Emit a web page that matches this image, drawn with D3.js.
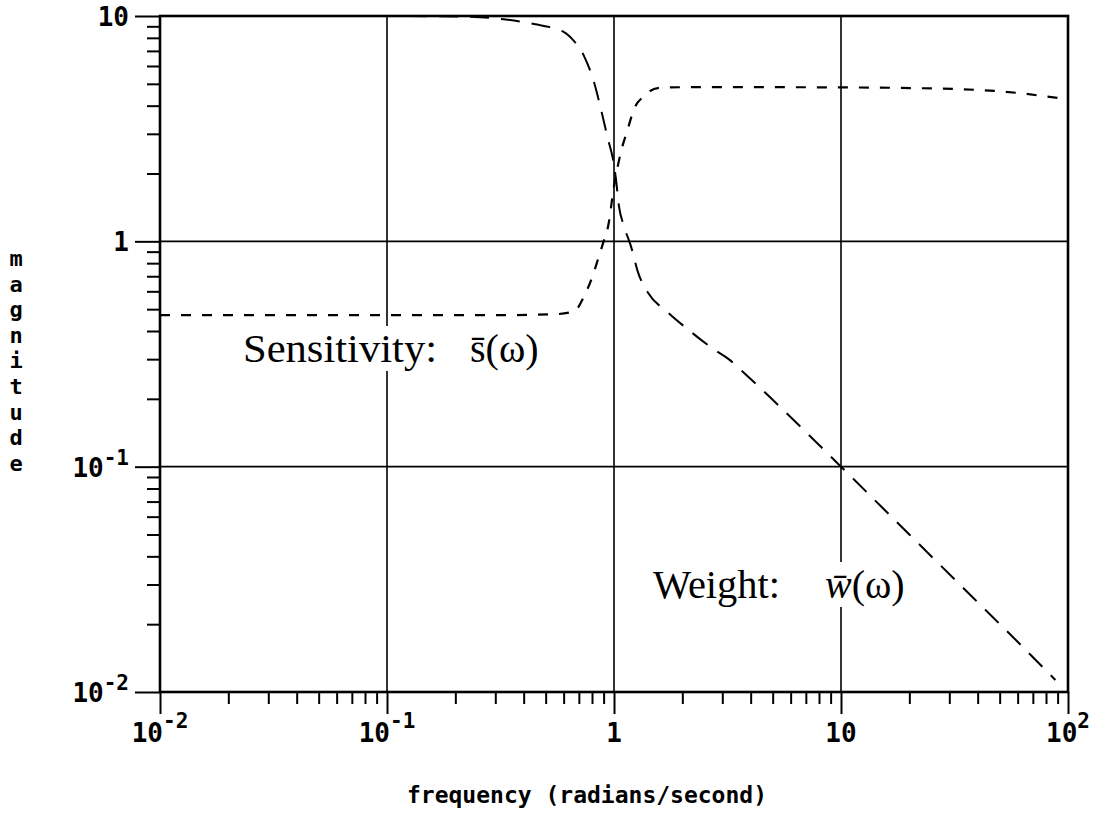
<!DOCTYPE html>
<html><head><meta charset="utf-8">
<script src="https://cdn.jsdelivr.net/npm/d3@7"></script>
<style>body{margin:0;background:#fff} svg{display:block}</style>
</head><body><svg id="c" width="1097" height="822"></svg>
<script>
// ---- data ----
const sensFreq = [0.01, 0.1, 0.3, 0.55, 0.667, 0.738, 0.80, 0.85, 0.90, 0.942, 1.0, 1.073, 1.15, 1.225, 1.356, 1.56, 2, 5, 10, 20.3, 49, 62, 78, 100];
const sensMag  = [0.47, 0.47, 0.47, 0.475, 0.489, 0.57, 0.69, 0.832, 1.0, 1.166, 1.755, 2.49, 3.15, 3.86, 4.41, 4.79, 4.83, 4.83, 4.82, 4.79, 4.64, 4.54, 4.41, 4.27];
const weightFreq = [0.01, 0.1, 0.2, 0.318, 0.444, 0.602, 0.667, 0.738, 0.816, 0.876, 0.941, 0.99, 1.02, 1.052, 1.107, 1.188, 1.276, 1.41, 1.73, 2.12, 2.76, 3.2, 3.63, 5, 10, 20, 38.5, 60, 88];
const weightMag  = [10, 10, 9.95, 9.7, 9.21, 8.49, 7.74, 6.64, 5.09, 3.86, 2.84, 2.31, 1.89, 1.43, 1.166, 0.95, 0.728, 0.593, 0.483, 0.406, 0.331, 0.3, 0.268, 0.198, 0.1, 0.05, 0.026, 0.0167, 0.0113];
const xMajor = [0.01, 0.1, 1, 10, 100];
const xTickBase = ["10", "10", "1", "10", "10"];
const xTickExp  = ["-2", "-1", "", "", "2"];
const yMajor = [0.01, 0.1, 1, 10];
const yTickBase = ["10", "10", "1", "10"];
const yTickExp  = ["-2", "-1", "", ""];
const xGrid = [0.1, 1, 10];
const yGrid = [0.1, 1];
const xTitle = "frequency (radians/second)";
const yTitle = "magnitude";
const sensLabel = "Sensitivity:";
const sensSym = "s\u0304(\u03c9)";
const weightLabel = "Weight:";
const weightSym = "w\u0304";

// ---- layout ----
const L = 160, R = 1068, T = 16, B = 692;
const svg = d3.select("#c");
svg.append("rect").attr("width",1097).attr("height",822).attr("fill","#fff");
const x = d3.scaleLog().domain([0.01, 100]).range([L, R]);
const y = d3.scaleLog().domain([0.01, 10]).range([B, T]);
const mono = "'DejaVu Sans Mono', monospace";
const serif = "'Liberation Serif', 'Times New Roman', serif";

// grid
svg.append("g").selectAll("line").data(xGrid).join("line")
  .attr("x1", d => x(d)).attr("x2", d => x(d)).attr("y1", T).attr("y2", B)
  .attr("stroke", "#000").attr("stroke-width", 1.6);
svg.append("g").selectAll("line").data(yGrid).join("line")
  .attr("x1", L).attr("x2", R).attr("y1", d => y(d)).attr("y2", d => y(d))
  .attr("stroke", "#000").attr("stroke-width", 1.6);

// curves
const line = d3.line().x(d => x(d[0])).y(d => y(d[1])).curve(d3.curveMonotoneX);
svg.append("path").datum(sensFreq.map((f,i)=>[f, sensMag[i]]))
  .attr("d", line).attr("fill","none").attr("stroke","#000")
  .attr("stroke-width", 2.2).attr("stroke-dasharray", "10,11");
svg.append("path").datum(weightFreq.map((f,i)=>[f, weightMag[i]]))
  .attr("d", line).attr("fill","none").attr("stroke","#000")
  .attr("stroke-width", 2.0).attr("stroke-dasharray", "19,12");

// axes ticks (outside)
const xMinor = x.ticks().filter(v => !xMajor.some(m => Math.abs(m - v) / m < 1e-6));
const yMinor = y.ticks().filter(v => !yMajor.some(m => Math.abs(m - v) / m < 1e-6));
function styleAxis(g){ g.select(".domain").remove(); g.selectAll("line").attr("stroke","#000").attr("stroke-width",2); g.selectAll("text").remove(); }
svg.append("g").attr("transform",`translate(0,${B})`)
  .call(d3.axisBottom(x).tickValues(xMinor).tickSize(12).tickFormat("")).call(styleAxis);
svg.append("g").attr("transform",`translate(0,${B})`)
  .call(d3.axisBottom(x).tickValues(xMajor).tickSize(22).tickFormat("")).call(styleAxis);
svg.append("g").attr("transform",`translate(${L},0)`)
  .call(d3.axisLeft(y).tickValues(yMinor).tickSize(13).tickFormat("")).call(styleAxis);
svg.append("g").attr("transform",`translate(${L},0)`)
  .call(d3.axisLeft(y).tickValues(yMajor).tickSize(25).tickFormat("")).call(styleAxis);

// frame
svg.append("rect").attr("x", L).attr("y", T).attr("width", R - L).attr("height", B - T)
  .attr("fill","none").attr("stroke","#000").attr("stroke-width", 2.6);

// x tick labels
xMajor.forEach((v, i) => {
  const t = svg.append("text").attr("x", x(v)).attr("y", 742)
    .attr("text-anchor","middle").attr("font-family", mono).attr("font-weight","bold").attr("font-size", 26);
  t.append("tspan").text(xTickBase[i]);
  if (xTickExp[i]) t.append("tspan").attr("dy", -14).attr("font-size", 21).text(xTickExp[i]);
});
// y tick labels
yMajor.forEach((v, i) => {
  const t = svg.append("text").attr("x", 129).attr("y", y(v) + 10)
    .attr("text-anchor","end").attr("font-family", mono).attr("font-weight","bold").attr("font-size", 26);
  t.append("tspan").text(yTickBase[i]);
  if (yTickExp[i]) t.append("tspan").attr("dy", -12).attr("font-size", 21).text(yTickExp[i]);
});

// axis titles
svg.append("text").attr("x", 587).attr("y", 803).attr("text-anchor","middle")
  .attr("font-family", mono).attr("font-weight","bold").attr("font-size", 23).text(xTitle);
svg.append("g").selectAll("text").data(yTitle.split("")).join("text")
  .attr("x", 16).attr("y", (d,i) => 266 + i * 25.6).attr("text-anchor","middle")
  .attr("font-family", mono).attr("font-weight","bold").attr("font-size", 22).text(d => d);

// annotations with white background
function annotate(x0, yb, label, labelW, symX, build){
  const g = svg.append("g");
  const bg = g.append("rect").attr("fill","#fff");
  g.append("text").attr("x", x0).attr("y", yb).attr("font-family", serif).attr("font-size", 40)
    .attr("textLength", labelW).attr("lengthAdjust","spacingAndGlyphs").text(label);
  const s = g.append("text").attr("x", symX).attr("y", yb).attr("font-family", serif).attr("font-size", 40);
  build(s);
  const bb = g.node().getBBox();
  bg.attr("x", bb.x - 4).attr("y", bb.y).attr("width", bb.width + 8).attr("height", bb.height);
}
annotate(243, 362, sensLabel, 194, 470, s => s.text(sensSym));
annotate(653, 598, weightLabel, 127, 825, s => {
  s.append("tspan").attr("font-style","italic").text(weightSym);
  s.append("tspan").text("(\u03c9)");
});
</script></body></html>
